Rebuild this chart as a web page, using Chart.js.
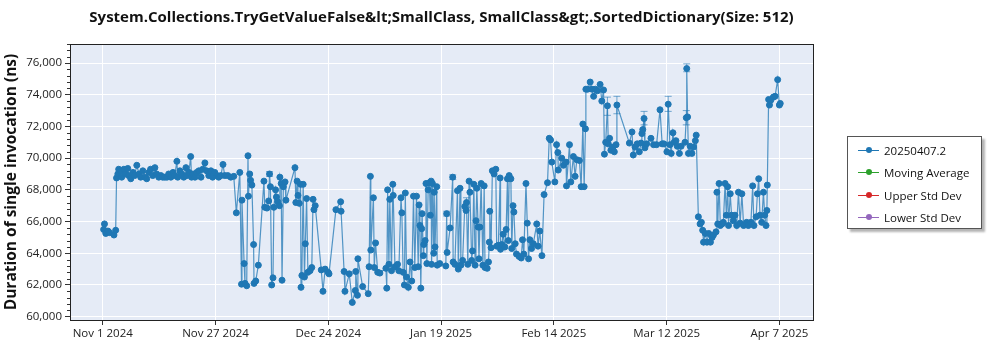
<!DOCTYPE html>
<html>
<head>
<meta charset="utf-8">
<title>SortedDictionary TryGetValueFalse</title>
<script src="https://cdn.jsdelivr.net/npm/chart.js@4/dist/chart.umd.min.js"></script>
<style>
  body { margin: 0; background: #fff; }
  #wrap { position: relative; width: 1000px; height: 350px; }
  #legend {
    position: absolute; left: 847px; top: 136px; width: 133px; height: 91px;
    border: 1px solid #555; background: #fff; box-shadow: 3px 3px 2px #b4b4b4;
    font: 11.5px "Open Sans", sans-serif; color: #111;
  }
  .item { position: absolute; left: 10px; height: 14px; display: flex; align-items: center; white-space: nowrap; }
  .swatch { position: relative; width: 21px; height: 1px; margin-right: 5px; }
  .swatch i { position: absolute; left: 8px; top: -3px; width: 6px; height: 6px; border-radius: 50%; }
</style>
</head>
<body>
<div id="wrap">
  <canvas id="perfChart" width="1000" height="350"></canvas>
  <div id="legend"></div>
</div>
<script>
// days since Nov 1 2024, one entry per benchmark run
let runDays = [
  0.2, 0.4, 0.7, 1.2, 1.6, 2.6, 3.0, 3.2, 3.5, 3.7, 4.2, 4.4, 4.9, 5.3, 5.8, 6.0, 6.5, 7.0, 7.4, 7.9,
  8.4, 8.8, 9.3, 9.8, 10.2, 10.7, 11.1, 11.6, 12.1, 12.5, 13.0, 13.5, 13.9, 14.4, 14.9, 15.3, 15.8, 16.3, 16.7, 17.2,
  17.4, 17.9, 18.3, 18.8, 19.3, 19.5, 20.0, 20.4, 20.6, 20.9, 21.4, 21.8, 22.3, 22.8, 23.2, 23.7, 24.1, 24.6, 25.1, 25.5,
  26.0, 26.5, 26.9, 27.4, 27.9, 28.3, 29.0, 29.7, 30.4, 31.0, 31.8, 32.2, 32.3, 32.8, 33.0, 33.4, 33.7, 33.8, 34.1, 34.3,
  34.6, 35.0, 35.1, 35.5, 36.1, 37.4, 37.6, 38.1, 38.5, 38.7, 38.9, 39.2, 39.5, 39.7, 40.1, 40.3, 40.6, 41.0, 41.1, 41.4,
  41.6, 41.9, 42.3, 42.5, 44.6, 44.8, 45.1, 45.3, 45.6, 45.9, 46.0, 46.2, 46.5, 46.8, 47.0, 47.3, 47.6, 48.1, 48.5, 48.8,
  49.0, 49.3, 50.7, 51.1, 51.6, 52.3, 52.5, 54.1, 55.2, 55.3, 56.0, 56.2, 57.2, 57.9, 58.6, 58.7, 59.1, 59.2, 60.3, 61.6,
  61.8, 62.1, 62.2, 62.8, 63.0, 63.3, 63.8, 64.3, 65.7, 65.9, 66.1, 66.4, 66.6, 67.0, 67.3, 67.4, 67.8, 68.4, 68.7, 69.2,
  69.4, 69.7, 70.0, 70.2, 70.5, 70.9, 71.3, 71.7, 72.1, 72.4, 72.8, 73.2, 73.4, 73.6, 73.8, 74.0, 74.1, 74.4, 74.5, 74.8,
  75.0, 75.2, 75.5, 75.8, 76.0, 76.2, 76.3, 76.5, 76.8, 76.9, 77.1, 77.5, 77.6, 78.2, 79.6, 79.8, 79.9, 80.6, 81.2, 81.3,
  81.7, 82.3, 82.5, 82.9, 83.1, 83.5, 84.0, 84.3, 84.4, 84.7, 85.0, 85.2, 85.6, 85.8, 86.1, 86.4, 86.6, 86.8, 87.1, 87.3,
  87.5, 87.8, 88.2, 88.5, 88.7, 89.2, 89.5, 89.7, 89.8, 90.1, 90.4, 90.8, 91.2, 91.4, 91.8, 92.2, 92.3, 92.6, 92.9, 93.3,
  93.6, 93.9, 94.1, 94.3, 94.7, 94.9, 95.2, 95.4, 95.7, 96.0, 96.6, 97.1, 97.4, 97.7, 98.2, 98.5, 98.8, 99.1, 99.5, 99.9,
  100.7, 101.0, 101.4, 101.9, 102.4, 103.2, 103.6, 103.9, 104.2, 104.9, 105.3, 105.6, 105.7, 106.5, 106.9, 107.5, 107.6, 108.3, 108.6, 109.2,
  109.6, 110.0, 110.6, 111.0, 111.4, 111.7, 112.0, 112.1, 112.5, 113.1, 113.5, 113.9, 114.3, 114.8, 115.4, 115.8, 116.2, 116.4, 116.7, 117.1,
  117.3, 117.6, 117.9, 118.4, 118.7, 119.1, 119.3, 122.2, 122.8, 123.1, 123.5, 124.0, 124.5, 124.9, 125.1, 125.3, 125.6, 125.8, 126.2, 127.2,
  127.8, 128.5, 129.3, 129.8, 130.2, 130.9, 131.2, 131.6, 131.9, 132.3, 132.6, 133.0, 133.3, 133.8, 134.2, 135.1, 135.4, 135.5, 135.7, 135.9,
  136.3, 136.7, 137.1, 137.5, 137.7, 138.2, 138.6, 138.9, 139.2, 139.4, 139.8, 140.2, 140.6, 141.0, 141.4, 141.7, 142.3, 142.5, 142.7, 143.0,
  143.3, 143.7, 144.0, 144.4, 144.7, 145.0, 145.2, 145.6, 145.9, 146.3, 146.7, 147.1, 147.5, 147.9, 148.3, 148.7, 149.4, 149.8, 150.4, 150.8,
  151.1, 151.6, 151.9, 152.2, 152.5, 152.9, 153.3, 153.6, 153.9, 154.1, 154.2, 154.5, 154.7, 155.0, 155.6, 156.0, 156.6, 157.0, 157.2
];

// duration of single invocation (ns)
let durations = [
  65500, 65850, 65250, 65400, 65300, 65150, 65450, 68750, 69000, 69300, 69200, 68800, 69300, 69000, 69350, 68900, 68700, 69100, 68900, 69550,
  69000, 68800, 69200, 68800, 68700, 69100, 69300, 68900, 69400, 69000, 68800, 68900, 68800, 68800, 68800, 69000, 68800, 69100, 68900, 69800,
  68800, 69200, 69000, 68800, 69400, 68900, 69100, 70100, 68800, 69000, 68800, 69100, 69200, 68800, 69300, 69700, 69200, 68900, 69200, 68800,
  69100, 68900, 68800, 68900, 69600, 68900, 68900, 68800, 68850, 66550, 69100, 62050, 67350, 63350, 62100, 61950, 70150, 67600, 69000, 68600,
  68300, 64550, 62100, 62250, 63250, 68550, 66900, 66850, 67300, 69000, 68200, 62000, 62450, 66900, 68000, 67550, 67250, 67000, 68800, 68400,
  62300, 68200, 68500, 67350, 69400, 67200, 68550, 67650, 67150, 68350, 61850, 62600, 68350, 62500, 64600, 67450, 62800, 62900, 63100, 67400,
  66750, 67000, 62950, 61600, 63000, 62800, 62700, 66750, 67250, 66650, 62850, 61600, 62700, 60900, 61650, 62850, 61350, 63650, 61900, 61450,
  63150, 68850, 64200, 67500, 63100, 64650, 62800, 62750, 63050, 61800, 68000, 63300, 67400, 62900, 68350, 67650, 63150, 63300, 62900, 67500,
  66550, 62800, 62000, 67800, 62500, 61850, 63450, 62250, 67600, 63100, 67600, 63150, 67050, 65750, 61800, 65550, 66500, 63850, 64550, 64800,
  68400, 63350, 68000, 68450, 66400, 68550, 63300, 68400, 64000, 67850, 64400, 68200, 63250, 63350, 63200, 66500, 64050, 65600, 68800, 63450,
  63300, 67950, 63000, 68100, 63250, 63550, 66950, 66700, 67200, 63300, 68550, 67850, 63550, 64150, 68350, 63250, 66050, 68100, 65650, 63650,
  65650, 68400, 63250, 68250, 63100, 63050, 63450, 64700, 66650, 64350, 69200, 69000, 69300, 64450, 64500, 68750, 64250, 64550, 65200, 64400,
  65500, 68700, 64800, 68900, 68700, 64300, 67000, 66600, 64600, 63950, 63800, 63700, 64850, 63950, 68400, 65900, 63650, 64850, 64300, 64600,
  65850, 64450, 65400, 63850, 67700, 68450, 71250, 71150, 69750, 68500, 70850, 70350, 69250, 70000, 69550, 69750, 68250, 70850, 68500, 70100,
  68850, 69900, 69850, 68200, 72150, 68200, 71850, 74350, 74350, 74800, 74350, 73900, 74350, 74250, 74650, 73600, 74300, 70250, 71000, 73300,
  70900, 71250, 70500, 70700, 70400, 70850, 73350, 70950, 71650, 70200, 70700, 70900, 70400, 70950, 71550, 71800, 72500, 70650, 70900, 71250,
  70850, 70850, 73050, 70900, 70900, 70400, 73400, 70850, 70300, 71600, 71000, 71100, 70750, 70300, 70750, 71000, 72550, 75650, 72600, 70300,
  70750, 70300, 70700, 71100, 71450, 66300, 65850, 65950, 65450, 64700, 65250, 64700, 65250, 64700, 65000, 65150, 65350, 67850, 65850, 68400,
  65750, 65850, 65950, 68400, 66400, 68200, 65750, 67750, 66400, 66050, 66400, 65750, 67850, 65900, 67750, 65750, 65950, 65750, 65950, 68250,
  65750, 66300, 67750, 68700, 66400, 65950, 67850, 66400, 65750, 66700, 68300, 73700, 73350, 73650, 73850, 73900, 74950, 73350, 73450
];

// error bars shown on a few runs
let errDays = [38.7, 79.8, 81.2, 84.4, 117.1, 119.3, 125.6, 131.2, 135.4, 135.5];
let errLow  = [68850, 66350, 68650, 66900, 72700, 72800, 72100, 72950, 72100, 75450];
let errHigh = [69150, 66650, 68950, 67500, 73850, 73900, 72950, 73900, 73000, 75950];

let xTickLabels = ['Nov 1 2024', 'Nov 27 2024', 'Dec 24 2024', 'Jan 19 2025', 'Feb 14 2025', 'Mar 12 2025', 'Apr 7 2025'];
let yTicks = [60000, 62000, 64000, 66000, 68000, 70000, 72000, 74000, 76000];

let seriesNames = ['20250407.2', 'Moving Average', 'Upper Std Dev', 'Lower Std Dev'];
let seriesColors = ['#1f77b4', '#2ca02c', '#d62728', '#9467bd'];

const FONT = '"Open Sans", "Noto Sans", sans-serif';
const TICK_SPAN = 157 / 6; // equal spacing between the date labels

// box around the whole plot area
const frame = {
  id: 'frame',
  afterDraw(chart) {
    const a = chart.chartArea, c = chart.ctx;
    c.save();
    c.strokeStyle = '#222';
    c.lineWidth = 1;
    c.strokeRect(Math.round(a.left) + 0.5, Math.round(a.top) + 0.5, Math.round(a.right - a.left), Math.round(a.bottom - a.top));
    c.restore();
  }
};

// small ticks every 400 ns on the y axis
const minorTicks = {
  id: 'minorTicks',
  afterDraw(chart) {
    const y = chart.scales.y, c = chart.ctx, left = chart.chartArea.left;
    c.save();
    c.strokeStyle = '#333';
    c.lineWidth = 1;
    for (let v = Math.ceil(y.min / 400) * 400; v <= y.max; v += 400) {
      if (v % 2000 === 0) continue;
      const py = Math.round(y.getPixelForValue(v)) + 0.5;
      c.beginPath();
      c.moveTo(left - 3, py);
      c.lineTo(left, py);
      c.stroke();
    }
    c.restore();
  }
};

const errorBars = {
  id: 'errorBars',
  beforeDatasetsDraw(chart) {
    const xs = chart.scales.x, ys = chart.scales.y, c = chart.ctx;
    c.save();
    c.strokeStyle = 'rgba(31,119,180,0.6)';
    c.lineWidth = 1;
    for (let i = 0; i < errDays.length; i++) {
      const px = xs.getPixelForValue(errDays[i]);
      const lo = ys.getPixelForValue(errLow[i]);
      const hi = ys.getPixelForValue(errHigh[i]);
      c.beginPath();
      c.moveTo(px, lo); c.lineTo(px, hi);
      c.moveTo(px - 3.5, lo); c.lineTo(px + 3.5, lo);
      c.moveTo(px - 3.5, hi); c.lineTo(px + 3.5, hi);
      c.stroke();
    }
    c.restore();
  }
};

let points = runDays.map((d, i) => ({ x: d, y: durations[i] }));

let datasets = seriesNames.map((name, i) => ({
  label: name,
  data: i === 0 ? points : [],
  borderColor: i === 0 ? 'rgba(31,119,180,0.75)' : seriesColors[i],
  backgroundColor: seriesColors[i],
  pointBackgroundColor: seriesColors[i],
  pointBorderColor: seriesColors[i],
  pointRadius: 3,
  pointBorderWidth: 1,
  borderWidth: 1.2,
  tension: 0
}));

let ctx = document.getElementById('perfChart').getContext('2d');
let perfChart = new Chart(ctx, {
  type: 'line',
  data: { datasets: datasets },
  options: {
    responsive: false,
    animation: false,
    layout: { padding: { right: 187 } },
    plugins: {
      legend: { display: false },
      tooltip: { enabled: false },
      title: {
        display: true,
        fullSize: false,
        text: 'System.Collections.TryGetValueFalse&lt;SmallClass, SmallClass&gt;.SortedDictionary(Size: 512)',
        color: '#111',
        font: { family: FONT, size: 15, weight: 'bold' },
        padding: { top: 9, bottom: 17 }
      }
    },
    scales: {
      x: {
        type: 'linear',
        min: -7.6,
        max: 164.8,
        afterBuildTicks: s => { s.ticks = xTickLabels.map((_, i) => ({ value: i * TICK_SPAN })); },
        afterFit: s => { s.height = 30; },
        ticks: {
          autoSkip: false, maxRotation: 0, padding: 2,
          color: '#222', font: { family: FONT, size: 11.5 },
          callback: (v, i) => xTickLabels[i]
        },
        grid: { color: '#fff', lineWidth: 1, tickColor: '#333', tickLength: 5 },
        border: { color: '#222' }
      },
      y: {
        min: 59790,
        max: 77200,
        afterBuildTicks: s => { s.ticks = yTicks.map(v => ({ value: v })); },
        afterFit: s => { s.width = 70; },
        ticks: {
          padding: 3, color: '#222', font: { family: FONT, size: 11.5 },
          callback: v => v.toLocaleString('en-US')
        },
        grid: { color: '#fff', lineWidth: 1, tickColor: '#333', tickLength: 5 },
        border: { color: '#222' },
        title: {
          display: true,
          text: 'Duration of single invocation (ns)',
          color: '#111',
          font: { family: FONT, size: 15.5, weight: 'bold' },
          padding: { top: 2, bottom: 0 }
        }
      }
    }
  },
  plugins: [
    { id: 'plotBg', beforeDraw(chart) {
        const a = chart.chartArea;
        chart.ctx.save();
        chart.ctx.fillStyle = '#e5ebf6';
        chart.ctx.fillRect(a.left, a.top, a.right - a.left, a.bottom - a.top);
        chart.ctx.restore();
    } },
    errorBars, minorTicks, frame
  ]
});

// legend box at the right, built from the dataset names
let legend = document.getElementById('legend');
seriesNames.forEach((name, i) => {
  let item = document.createElement('div');
  item.className = 'item';
  item.style.top = (6 + i * 22.5) + 'px';
  item.innerHTML = '<span class="swatch" style="background:' + seriesColors[i] + '"><i style="background:' + seriesColors[i] + '"></i></span>' + name;
  legend.appendChild(item);
});
</script>
</body>
</html>
